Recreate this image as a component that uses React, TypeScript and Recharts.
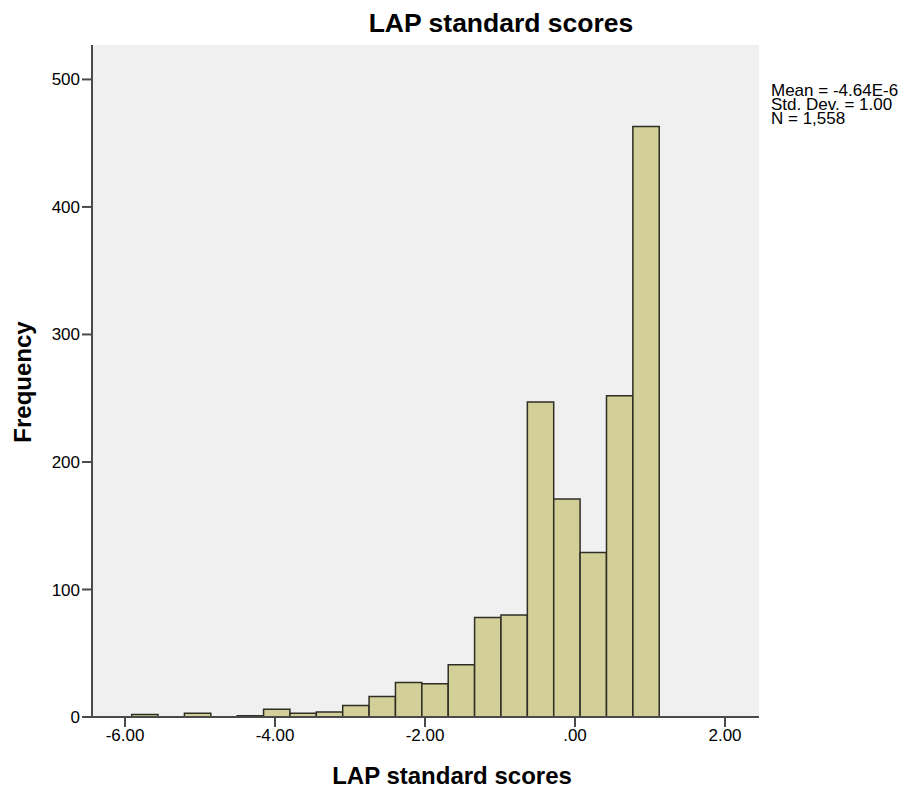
import React from 'react'
import { ComposedChart, Bar, XAxis, YAxis, CartesianGrid, Customized } from 'recharts'

// histogram bins (SPSS style): lower edge of first bin, bin width, counts per bin
const binStart = -5.911
const binWidth = 0.3517
const counts = [2, 0, 3, 0, 1, 6, 3, 4, 9, 16, 27, 26, 41, 78, 80, 247, 171, 129, 252, 463]

const xDomain: [number, number] = [-6.44, 2.453]
const yDomain: [number, number] = [0, 527]
const xTicks = [-6, -4, -2, 0, 2]
const yTicks = [0, 100, 200, 300, 400, 500]

const title = 'LAP standard scores'
const xLabel = 'LAP standard scores'
const yLabel = 'Frequency'
const stats = ['Mean = -4.64E-6', 'Std. Dev. = 1.00', 'N = 1,558']

const data = counts.map((count, i) => ({ x: binStart + (i + 0.5) * binWidth, count }))

const WIDTH = 906
const HEIGHT = 791
const margin = { top: 45, right: 147, bottom: 44, left: 0 }
const plotWidth = WIDTH - margin.left - margin.right - 92
// a hair under the band size, otherwise recharts shrinks the bars to 90%
const barSize = ((binWidth * plotWidth) / (xDomain[1] - xDomain[0])) * 0.999

const font = '"Liberation Sans", Arial, sans-serif'
const axisColor = '#4a4a4a'

const fmtX = (v: number) => (v === 0 ? '.00' : v.toFixed(2))

const Annotations = () => (
  <g fontFamily={font} fill="#000">
    <text x={501} y={32} textAnchor="middle" fontSize={26.5} fontWeight="bold">
      {title}
    </text>
    <text x={452} y={784} textAnchor="middle" fontSize={24} fontWeight="bold">
      {xLabel}
    </text>
    <text
      x={31}
      y={382}
      textAnchor="middle"
      fontSize={24}
      fontWeight="bold"
      transform="rotate(-90 31 382)"
    >
      {yLabel}
    </text>
    {stats.map((s, i) => (
      <text key={s} x={771} y={96 + i * 14} fontSize={17}>
        {s}
      </text>
    ))}
  </g>
)

export default function App() {
  return (
    <div style={{ position: 'absolute', left: 0, top: 0, width: WIDTH, height: HEIGHT, background: '#fff' }}>
      <ComposedChart width={WIDTH} height={HEIGHT} data={data} margin={margin} barCategoryGap={0} barGap={0}>
        <CartesianGrid horizontal={false} vertical={false} fill="#f0f0f0" />
        <XAxis
          dataKey="x"
          type="number"
          domain={xDomain}
          ticks={xTicks}
          tickFormatter={fmtX}
          allowDataOverflow
          height={30}
          tickSize={10}
          tick={{ fill: '#000', fontSize: 17, fontFamily: font }}
          tickLine={{ stroke: axisColor, strokeWidth: 2 }}
          axisLine={{ stroke: axisColor, strokeWidth: 2 }}
        />
        <XAxis
          xAxisId="top"
          orientation="top"
          type="number"
          domain={xDomain}
          height={0}
          tick={false}
          tickLine={false}
          axisLine={{ stroke: axisColor, strokeWidth: 2 }}
        />
        <YAxis
          type="number"
          domain={yDomain}
          ticks={yTicks}
          allowDataOverflow
          width={92}
          tickSize={10}
          tick={{ fill: '#000', fontSize: 17, fontFamily: font }}
          tickLine={{ stroke: axisColor, strokeWidth: 2 }}
          axisLine={{ stroke: axisColor, strokeWidth: 2 }}
        />
        <YAxis
          yAxisId="right"
          orientation="right"
          type="number"
          domain={yDomain}
          width={0}
          tick={false}
          tickLine={false}
          axisLine={{ stroke: axisColor, strokeWidth: 2 }}
        />
        <Bar
          dataKey="count"
          barSize={barSize}
          fill="#d3cf98"
          stroke="#2e2e24"
          strokeWidth={1.5}
          isAnimationActive={false}
        />
        <Customized component={Annotations} />
      </ComposedChart>
    </div>
  )
}
